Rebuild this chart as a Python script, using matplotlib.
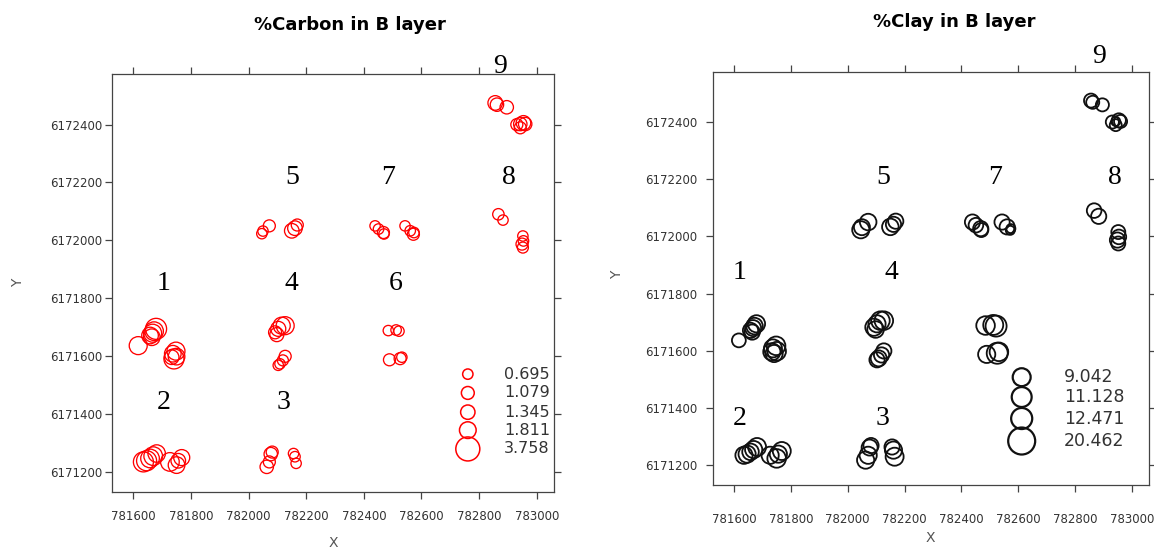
import matplotlib
matplotlib.use("Agg")
import matplotlib.pyplot as plt
import numpy as np

# ---- sample locations (shared by both panels) ----
x = [781617, 781658, 781667, 781679, 781664, 781672, 781737, 781748, 781741, 781750, 781733,
     781635, 781646, 781658, 781669, 781681, 781727, 781750, 781768, 781756,
     782063, 782072, 782077, 782082, 782156, 782161, 782165,
     782092, 782103, 782115, 782127, 782098, 782109, 782119, 782127, 782103,
     782046, 782050, 782072, 782150, 782161, 782169,
     782485, 782522, 782489, 782526, 782532, 782512,
     782439, 782451, 782468, 782470, 782543, 782561, 782572, 782574,
     782867, 782883, 782952, 782954, 782949, 782952,
     782856, 782862, 782896, 782931, 782943, 782954, 782960, 782943]
y = [6171636, 6171671, 6171679, 6171694, 6171665, 6171686, 6171608, 6171617, 6171590, 6171598, 6171596,
     6171234, 6171238, 6171246, 6171254, 6171263, 6171234, 6171223, 6171249, 6171238,
     6171217, 6171234, 6171261, 6171268, 6171263, 6171252, 6171229,
     6171682, 6171694, 6171705, 6171705, 6171674, 6171573, 6171585, 6171599, 6171568,
     6172023, 6172032, 6172050, 6172033, 6172042, 6172053,
     6171688, 6171686, 6171587, 6171591, 6171596, 6171690,
     6172050, 6172039, 6172027, 6172022, 6172050, 6172033, 6172021, 6172027,
     6172090, 6172070, 6172015, 6171998, 6171987, 6171975,
     6172475, 6172469, 6172460, 6172400, 6172402, 6172406, 6172402, 6172389]
carbon = [2.11, 1.80, 2.11, 2.88, 1.80, 2.26, 1.80, 2.11, 2.61, 1.80, 1.39,
          2.61, 2.61, 2.26, 2.26, 1.98, 2.26, 1.80, 1.67, 1.39,
          1.17, 0.94, 1.17, 0.94, 0.70, 0.72, 0.70,
          1.10, 1.47, 1.89, 2.11, 1.28, 0.70, 0.79, 0.94, 0.70,
          0.70, 0.70, 0.94, 1.39, 1.39, 0.94,
          0.70, 0.70, 0.94, 0.94, 0.70, 0.72,
          0.70, 0.72, 0.94, 0.70, 0.70, 0.72, 0.94, 0.72,
          0.85, 0.70, 0.70, 0.72, 0.94, 0.79,
          1.39, 1.17, 1.17, 0.94, 1.17, 1.39, 1.17, 0.94]
clay = [5.4, 6.5, 7.2, 8.3, 6.5, 7.7, 9.1, 9.7, 8.3, 9.7, 8.3,
        8.3, 8.3, 7.7, 8.3, 9.1, 8.3, 9.7, 9.1, 8.3,
        8.3, 8.3, 7.2, 6.5, 6.5, 8.3, 9.1,
        8.3, 8.3, 9.7, 9.7, 7.7, 7.2, 6.5, 6.5, 6.5,
        8.3, 7.2, 7.7, 7.7, 6.5, 6.5,
        9.7, 12.4, 8.3, 12.4, 9.7, 11.2,
        6.5, 6.0, 6.5, 5.5, 6.5, 6.5, 2.3, 2.3,
        6.0, 6.5, 5.5, 6.0, 6.5, 5.5,
        5.5, 4.8, 4.8, 4.8, 2.3, 5.5, 4.8, 4.0]

# ---- site number labels ----
carbon_site_labels = ["1", "2", "3", "4", "5", "6", "7", "8", "9"]
carbon_site_x = [781704, 781704, 782121, 782150, 782150, 782511, 782483, 782902, 782873]
carbon_site_y = [6171851, 6171438, 6171438, 6171851, 6172216, 6171851, 6172216, 6172216, 6172601]
clay_site_labels = ["1", "2", "3", "4", "5", "7", "8", "9"]
clay_site_x = [781621, 781621, 782124, 782155, 782124, 782517, 782939, 782886]
clay_site_y = [6171875, 6171363, 6171363, 6171875, 6172205, 6172205, 6172205, 6172630]

# ---- legends ----
carbon_legend = [0.695, 1.079, 1.345, 1.811, 3.758]
carbon_legend_labels = ["0.695", "1.079", "1.345", "1.811", "3.758"]
clay_legend = [9.042, 11.128, 12.471, 20.462]
clay_legend_labels = ["9.042", "11.128", "12.471", "20.462"]

x_ticks = [781600, 781800, 782000, 782200, 782400, 782600, 782800, 783000]
y_ticks = [6171200, 6171400, 6171600, 6171800, 6172000, 6172200, 6172400]
xlim = (781526, 783060)
ylim = (6171130, 6172575)

DPI = 100
fig = plt.figure(figsize=(11.54, 5.52), dpi=DPI)

def msize(vals, vmax, rmax_px):
    r = rmax_px * np.sqrt(np.asarray(vals, float) / vmax)
    return (2 * r * 72.0 / DPI) ** 2

def setup(ax, xpad, ypad):
    ax.set_xlim(*xlim)
    ax.set_ylim(*ylim)
    ax.set_xticks(x_ticks)
    ax.set_yticks(y_ticks)
    ax.set_xticklabels([str(v) for v in x_ticks])
    ax.set_yticklabels([str(v) for v in y_ticks])
    for s in ax.spines.values():
        s.set_color("#444444")
        s.set_linewidth(0.9)
    ax.tick_params(direction="out", length=5, width=0.9, color="#444444",
                   top=True, right=True, labeltop=False, labelright=False,
                   labelsize=8.5, labelcolor="#333333")
    ax.tick_params(axis="x", pad=xpad)
    ax.tick_params(axis="y", pad=ypad)

# ---- left panel: carbon ----
ax1 = fig.add_axes([112/1154, 1-492/552, 442/1154, 418/552])
setup(ax1, 8, 2)
cmax, crmax = max(carbon_legend), 12.0
ax1.scatter(x, y, s=msize(carbon, cmax, crmax), facecolors="none",
            edgecolors="#ff0000", linewidths=0.95)
for t, tx, ty in zip(carbon_site_labels, carbon_site_x, carbon_site_y):
    ax1.text(tx, ty, t, family="Liberation Serif", fontsize=20,
             ha="center", va="center", clip_on=False)
leg_y1 = [0.282, 0.237, 0.191, 0.148, 0.103]
ax1.scatter([0.805]*len(carbon_legend), leg_y1, s=msize(carbon_legend, cmax, crmax),
            facecolors="none", edgecolors="#ff0000", linewidths=1.1,
            transform=ax1.transAxes, clip_on=False)
for lab, yy in zip(carbon_legend_labels, leg_y1):
    ax1.text(0.887, yy, lab, transform=ax1.transAxes, fontsize=11.5,
             color="#333333", ha="left", va="center")

# ---- right panel: clay ----
ax2 = fig.add_axes([713/1154, 1-485/552, 436/1154, 413/552])
setup(ax2, 15, 6)
kmax, krmax = max(clay_legend), 13.5
ax2.scatter(x, y, s=msize(clay, kmax, krmax), facecolors="none",
            edgecolors="#111111", linewidths=1.3)
for t, tx, ty in zip(clay_site_labels, clay_site_x, clay_site_y):
    ax2.text(tx, ty, t, family="Liberation Serif", fontsize=20,
             ha="center", va="center", clip_on=False)
leg_y2 = [0.261, 0.213, 0.161, 0.1065]
ax2.scatter([0.708]*len(clay_legend), leg_y2, s=msize(clay_legend, kmax, krmax),
            facecolors="none", edgecolors="#111111", linewidths=1.6,
            transform=ax2.transAxes, clip_on=False)
for lab, yy in zip(clay_legend_labels, leg_y2):
    ax2.text(0.805, yy, lab, transform=ax2.transAxes, fontsize=12.5,
             color="#333333", ha="left", va="center")

# ---- titles and axis labels ----
fig.text(350/1154, 1-25/552, "%Carbon in B layer", fontsize=13, fontweight="bold",
         ha="center", va="center")
fig.text(954/1154, 1-22/552, "%Clay in B layer", fontsize=13, fontweight="bold",
         ha="center", va="center")
fig.text(333/1154, 1-543/552, "X", fontsize=10, color="#555555", ha="center", va="center")
fig.text(18/1154, 1-283/552, "Y", fontsize=10, color="#555555", ha="center", va="center",
         rotation=90)
fig.text(930/1154, 1-538/552, "X", fontsize=10, color="#555555", ha="center", va="center")
fig.text(617/1154, 1-275/552, "Y", fontsize=10, color="#555555", ha="center", va="center",
         rotation=90)

fig.savefig("out.png", dpi=DPI)
